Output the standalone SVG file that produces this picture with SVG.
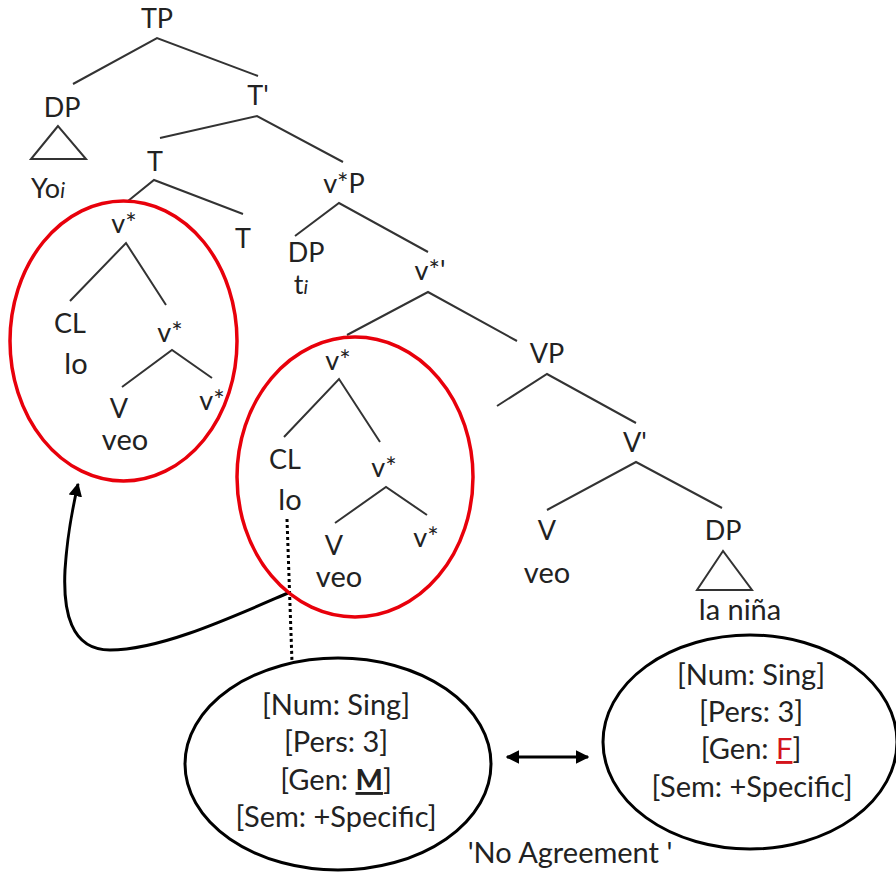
<svg xmlns="http://www.w3.org/2000/svg" width="896" height="873" viewBox="0 0 896 873">
<defs>
<style>
text{font-family:Lato,"Open Sans","Liberation Sans",sans-serif;font-size:27px;fill:#222;text-anchor:middle}
.w{font-size:29px}
.f{font-size:29px}
.br{stroke:#333;stroke-width:2;fill:none}
.red{fill:none;stroke:#e8000b;stroke-width:3.5}
.blk{fill:none;stroke:#000;stroke-width:3}
</style>
<marker id="ah" viewBox="0 0 10 10" refX="9" refY="5" markerWidth="4.5" markerHeight="4.5" orient="auto-start-reverse" markerUnits="strokeWidth">
<path d="M0,0 L10,5 L0,10 z" fill="#000"/>
</marker>
</defs>
<rect width="896" height="873" fill="#fff"/>

<g id="connectors">
<path class="br" d="M73,84 L157,38 L258,76"/>
<path class="br" d="M58,126 L31,159 L86,159 Z"/>
<path class="br" d="M160,138 L257,116 L343,162"/>
<path class="br" d="M128,201 L154,180 L243,214"/>
<path class="br" d="M295,236 L339,203 L428,252"/>
<path class="br" d="M70,301 L126,243 L166,305"/>
<path class="br" d="M122,387 L172,350 L212,378"/>
<path class="br" d="M347,335 L428,292 L517,341"/>
<path class="br" d="M284,437 L339,379 L380,442"/>
<path class="br" d="M335,523 L386,487 L427,515"/>
<path class="br" d="M497,406 L547,374 L636,423"/>
<path class="br" d="M547,510 L636,462 L722,508"/>
<path class="br" d="M723,551 L697,590 L752,590 Z"/>
<path d="M287,519 L292,662" fill="none" stroke="#000" stroke-width="3" stroke-dasharray="3,3"/>
<path class="blk" d="M288,593 C230,618 160,650 110,650 C70,650 63,610 65,570 C67,540 70,520 78,484" marker-end="url(#ah)"/>
<path class="blk" d="M507,757 L588,757" marker-start="url(#ah)" marker-end="url(#ah)"/>
</g>

<g id="ellipses">
<ellipse class="red" cx="123.5" cy="341" rx="113.5" ry="140"/>
<ellipse class="red" cx="355" cy="477" rx="118" ry="140"/>
<ellipse class="blk" cx="338" cy="764" rx="153" ry="106"/>
<ellipse class="blk" cx="750" cy="742" rx="147" ry="107"/>
</g>

<g id="n-TP"><text x="157" y="28">TP</text></g>
<g id="n-DP1"><text x="62" y="117">DP</text></g>
<g id="n-Yo"><text x="48" y="198">Yo<tspan font-style="italic" font-size="21">i</tspan></text></g>
<g id="n-Tbar"><text x="258" y="105">T'</text></g>
<g id="n-T1"><text x="155" y="171">T</text></g>
<g id="n-vstar1"><text x="124" y="233">v*</text></g>
<g id="n-T2"><text x="243" y="248">T</text></g>
<g id="n-vP"><text x="344" y="193">v*P</text></g>
<g id="n-DP2"><text x="306" y="262">DP</text></g>
<g id="n-ti"><text x="301" y="294" font-size="25">t<tspan font-style="italic" font-size="20">i</tspan></text></g>
<g id="n-vbar"><text x="430" y="280">v*'</text></g>
<g id="n-CL1"><text x="70" y="333">CL</text></g>
<g id="n-lo1"><text class="w" x="76" y="374">lo</text></g>
<g id="n-vstar2"><text x="170" y="342">v*</text></g>
<g id="n-V1"><text x="119" y="418">V</text></g>
<g id="n-vstar3"><text x="212" y="410">v*</text></g>
<g id="n-veo1"><text class="w" x="125" y="450">veo</text></g>
<g id="n-vstar4"><text x="338" y="370">v*</text></g>
<g id="n-CL2"><text x="285" y="469">CL</text></g>
<g id="n-lo2"><text class="w" x="290" y="510">lo</text></g>
<g id="n-vstar5"><text x="384" y="477">v*</text></g>
<g id="n-V2"><text x="334" y="555">V</text></g>
<g id="n-vstar6"><text x="426" y="547">v*</text></g>
<g id="n-veo2"><text class="w" x="339" y="587">veo</text></g>
<g id="n-VP"><text x="547" y="363">VP</text></g>
<g id="n-Vbar"><text x="635" y="452">V'</text></g>
<g id="n-V3"><text x="547" y="540">V</text></g>
<g id="n-veo3"><text class="w" x="547" y="583">veo</text></g>
<g id="n-DP3"><text x="723" y="540">DP</text></g>
<g id="n-nina"><text class="w" x="740" y="620">la niña</text></g>

<g id="n-feat1">
<text class="f" x="336" y="715">[Num: Sing]</text>
<text class="f" x="336" y="752">[Pers: 3]</text>
<text class="f" x="336" y="790">[Gen: <tspan font-weight="bold" text-decoration="underline">M</tspan>]</text>
<text class="f" x="336" y="827">[Sem: +Specific]</text>
</g>
<g id="n-feat2">
<text class="f" x="751" y="685">[Num: Sing]</text>
<text class="f" x="751" y="722">[Pers: 3]</text>
<text class="f" x="751" y="759">[Gen: <tspan fill="#d4141c" text-decoration="underline">F</tspan>]</text>
<text class="f" x="752" y="797">[Sem: +Specific]</text>
</g>
<g id="n-noagr"><text class="f" x="570" y="863">'No Agreement '</text></g>
</svg>
